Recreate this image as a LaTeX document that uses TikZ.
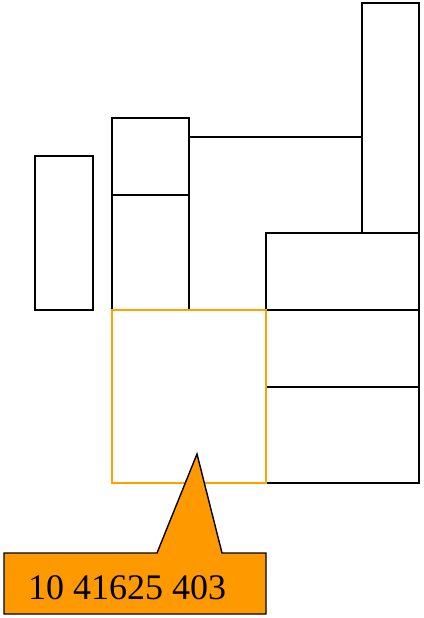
\documentclass[tikz,border=0pt]{standalone}
\usepackage{fontspec}
\setmainfont{Liberation Serif}
\definecolor{orfill}{HTML}{FF9900}
\definecolor{orline}{HTML}{FFA200}
\begin{document}
\begin{tikzpicture}[x=1pt,y=-1pt,
  box/.style={draw=black,line width=1.4pt},
  obox/.style={draw=orline,line width=1.4pt},
  callout/.style={draw=black,line width=1.4pt,fill=orfill,line join=miter}]
\useasboundingbox (0,0) rectangle (423,618);
% left box
\draw[box] (35,156) rectangle (93,310);
% middle column
\draw[box] (112,118) rectangle (189,195);
\draw[box] (112,195) rectangle (189,310);
% connector line
\draw[box] (189,137) -- (362,137);
% tall right box
\draw[box] (362,3) rectangle (419,233);
% right stack
\draw[box] (266,233) rectangle (419,310);
\draw[box] (266,310) rectangle (419,387);
\draw[box] (266,387) rectangle (419,483);
% orange box
\draw[obox] (112,310) rectangle (266,483);
% callout
\draw[callout] (4,553) -- (157,553) -- (197,454) -- (222,553) -- (266,553) -- (266,614) -- (4,614) -- cycle;
\node[font=\fontsize{36}{40}\selectfont,anchor=center] (lbl) at (127,588) {10 41625 403};
\end{tikzpicture}
\end{document}
